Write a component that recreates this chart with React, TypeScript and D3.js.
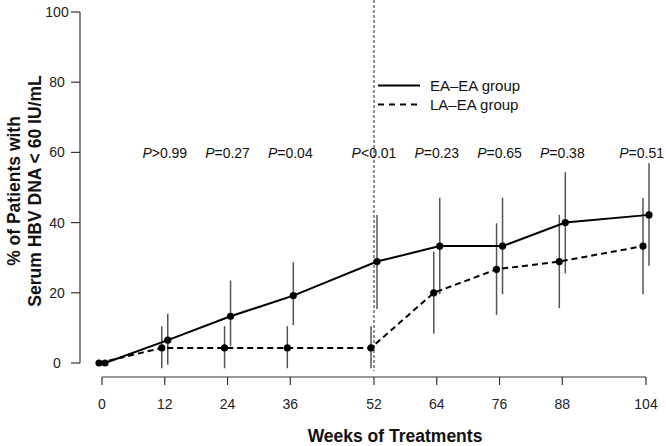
import React from "react";
import * as d3 from "d3";

const weeks = [0, 12, 24, 36, 52, 64, 76, 88, 104];
const eaEa = [0, 6.5, 13.3, 19.2, 28.9, 33.3, 33.3, 40.0, 42.2];
const eaEaLow = [0, -0.5, 4.8, 10.8, 15.4, 19.6, 19.6, 25.5, 27.7];
const eaEaHigh = [0, 14.0, 23.5, 28.7, 42.2, 47.1, 47.1, 54.4, 56.9];
const laEa = [0, 4.3, 4.3, 4.3, 4.3, 20.0, 26.7, 28.9, 33.3];
const laEaLow = [0, -1.5, -1.5, -1.5, -1.5, 8.3, 13.7, 15.6, 19.6];
const laEaHigh = [0, 10.5, 10.5, 10.5, 10.5, 31.7, 39.8, 42.2, 47.1];
const pWeeks = [12, 24, 36, 52, 64, 76, 88, 104];
const pLabels = [">0.99", "=0.27", "=0.04", "<0.01", "=0.23", "=0.65", "=0.38", "=0.51"];
const yTicks = [0, 20, 40, 60, 80, 100];
const seriesNames = ["EA\u2013EA group", "LA\u2013EA group"];

const W = 666;
const H = 446;
const FONT = "'Liberation Sans', Arial, Helvetica, sans-serif";

export default function App() {
  const x = d3.scaleLinear().domain([0, 104]).range([102, 646]);
  const y = d3.scaleLinear().domain([0, 100]).range([363, 12]);
  const dodge = 3;

  const lineA = d3
    .line<number>()
    .x((_, i) => x(weeks[i]) + dodge)
    .y((d) => y(d));
  const lineB = d3
    .line<number>()
    .x((_, i) => x(weeks[i]) - dodge)
    .y((d) => y(d));

  const axisY = 377;
  const tickColor = "#333";
  const barColor = "#555";

  return (
    <svg
      width={W}
      height={H}
      style={{ position: "absolute", left: 0, top: 0, background: "#fff" }}
      fontFamily={FONT}
    >
      {/* Y axis */}
      <line x1={80} x2={80} y1={y(0)} y2={y(100)} stroke={tickColor} strokeWidth={1.2} />
      {yTicks.map((t) => (
        <g key={t}>
          <line x1={71} x2={80} y1={y(t)} y2={y(t)} stroke={tickColor} strokeWidth={1.2} />
          <text x={57} y={y(t)} dy="0.35em" textAnchor="middle" fontSize={14} fill="#222">
            {t}
          </text>
        </g>
      ))}
      {/* X axis */}
      <line x1={x(0)} x2={x(104)} y1={axisY} y2={axisY} stroke={tickColor} strokeWidth={1.2} />
      {weeks.map((w) => (
        <g key={w}>
          <line x1={x(w)} x2={x(w)} y1={axisY} y2={axisY + 8} stroke={tickColor} strokeWidth={1.2} />
          <text x={x(w)} y={409} textAnchor="middle" fontSize={14} fill="#222">
            {w}
          </text>
        </g>
      ))}
      {/* Axis titles */}
      <text x={395} y={442} textAnchor="middle" fontSize={17.5} fontWeight="bold" fill="#111">
        Weeks of Treatments
      </text>
      <text
        transform="translate(19.5,191) rotate(-90)"
        textAnchor="middle"
        fontSize={17.5}
        fontWeight="bold"
        fill="#111"
      >
        % of Patients with
      </text>
      <text
        transform="translate(41,191) rotate(-90)"
        textAnchor="middle"
        fontSize={17.5}
        fontWeight="bold"
        fill="#111"
      >
        Serum HBV DNA &lt; 60 IU/mL
      </text>

      {/* Vertical reference line at week 52 */}
      <line
        x1={x(52)}
        x2={x(52)}
        y1={0}
        y2={371}
        stroke="#222"
        strokeWidth={1}
        strokeDasharray="3,2"
      />

      {/* Error bars */}
      {weeks.map((w, i) =>
        i === 0 ? null : (
          <g key={"eb" + w}>
            <line
              x1={x(w) + dodge}
              x2={x(w) + dodge}
              y1={y(eaEaLow[i])}
              y2={y(eaEaHigh[i])}
              stroke={barColor}
              strokeWidth={1.5}
            />
            <line
              x1={x(w) - dodge}
              x2={x(w) - dodge}
              y1={y(laEaLow[i])}
              y2={y(laEaHigh[i])}
              stroke={barColor}
              strokeWidth={1.5}
            />
          </g>
        )
      )}

      {/* Lines */}
      <path d={lineA(eaEa) || ""} fill="none" stroke="#000" strokeWidth={2} />
      <path d={lineB(laEa) || ""} fill="none" stroke="#000" strokeWidth={2} strokeDasharray="6,4" />

      {/* Points */}
      {weeks.map((w, i) => (
        <g key={"pt" + w}>
          <circle cx={x(w) - dodge} cy={y(laEa[i])} r={3.6} fill="#000" />
          <circle cx={x(w) + dodge} cy={y(eaEa[i])} r={3.6} fill="#000" />
        </g>
      ))}

      {/* P values */}
      {pWeeks.map((w, i) => {
        const last = i === pWeeks.length - 1;
        return (
          <text
            key={"p" + w}
            x={last ? W - 2 : x(w)}
            y={158}
            textAnchor={last ? "end" : "middle"}
            fontSize={14}
            fill="#111"
          >
            <tspan fontStyle="italic">P</tspan>
            {pLabels[i]}
          </text>
        );
      })}

      {/* Legend */}
      <line x1={378} x2={420} y1={85.5} y2={85.5} stroke="#000" strokeWidth={2} />
      <text x={430} y={91} fontSize={15} fill="#111">
        {seriesNames[0]}
      </text>
      <line x1={378} x2={420} y1={104.5} y2={104.5} stroke="#000" strokeWidth={2} strokeDasharray="6,5" />
      <text x={430} y={110} fontSize={15} fill="#111">
        {seriesNames[1]}
      </text>
    </svg>
  );
}
